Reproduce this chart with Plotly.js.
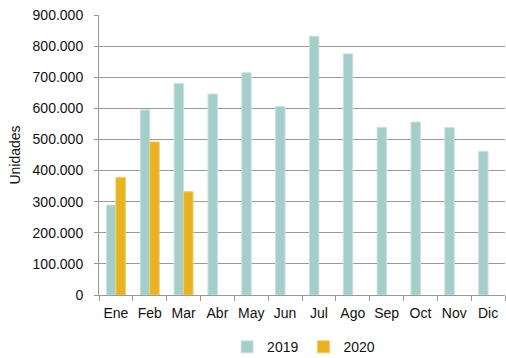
<!DOCTYPE html>
<html><head><meta charset="utf-8">
<script src="https://cdn.plot.ly/plotly-3.0.1.min.js"></script>
<style>html,body{margin:0;padding:0;background:#fff}#c{width:506px;height:358px}</style>
</head><body><div id="c"></div>
<script>
var months = ["Ene","Feb","Mar","Abr","May","Jun","Jul","Ago","Sep","Oct","Nov","Dic"];
var v2019 = [289000,595000,680000,646000,714000,606000,832000,775000,539000,556000,538000,462000];
var v2020 = [378000,492000,332000,null,null,null,null,null,null,null,null,null];
var tickVals = [0,100000,200000,300000,400000,500000,600000,700000,800000,900000];

var traces = [
  {type:"bar", name:"2019", x:months, y:v2019, marker:{color:"#a5cdca", line:{color:"#c8e3e1", width:1}}},
  {type:"bar", name:"2020", x:months, y:v2020, marker:{color:"#e8b223", line:{color:"#f2cc66", width:1}}}
];
var layout = {
  width:506, height:358,
  margin:{l:99, r:1, t:15, b:63},
  separators:",.",
  barmode:"group", bargap:0.44, bargroupgap:0,
  paper_bgcolor:"#fff", plot_bgcolor:"#fff",
  font:{family:"Liberation Sans, Arial, sans-serif", size:14, color:"#111"},
  xaxis:{type:"category", showline:true, linecolor:"#999", linewidth:1, ticks:"outside", tickson:"boundaries",
         ticklen:5, tickcolor:"#999", showgrid:false, tickfont:{size:14}, tickangle:0, automargin:false,
         ticklabelstandoff:5, fixedrange:true},
  yaxis:{range:[0,900000], tickvals:tickVals, tickformat:",d", showline:true, linecolor:"#999", linewidth:1,
         ticks:"outside", ticklen:4, tickcolor:"#999", gridcolor:"#999", gridwidth:1, zeroline:false,
         tickfont:{size:14}, ticklabelstandoff:8, automargin:true,
         title:{text:"Unidades", font:{size:14}, standoff:8}},
  showlegend:true,
  legend:{orientation:"h", x:0.6, xref:"container", xanchor:"center", y:0.03, yref:"container", yanchor:"middle",
          font:{size:14}, itemwidth:30, traceorder:"normal"}
};
Plotly.newPlot("c", traces, layout, {displayModeBar:false, staticPlot:true});
</script></body></html>
